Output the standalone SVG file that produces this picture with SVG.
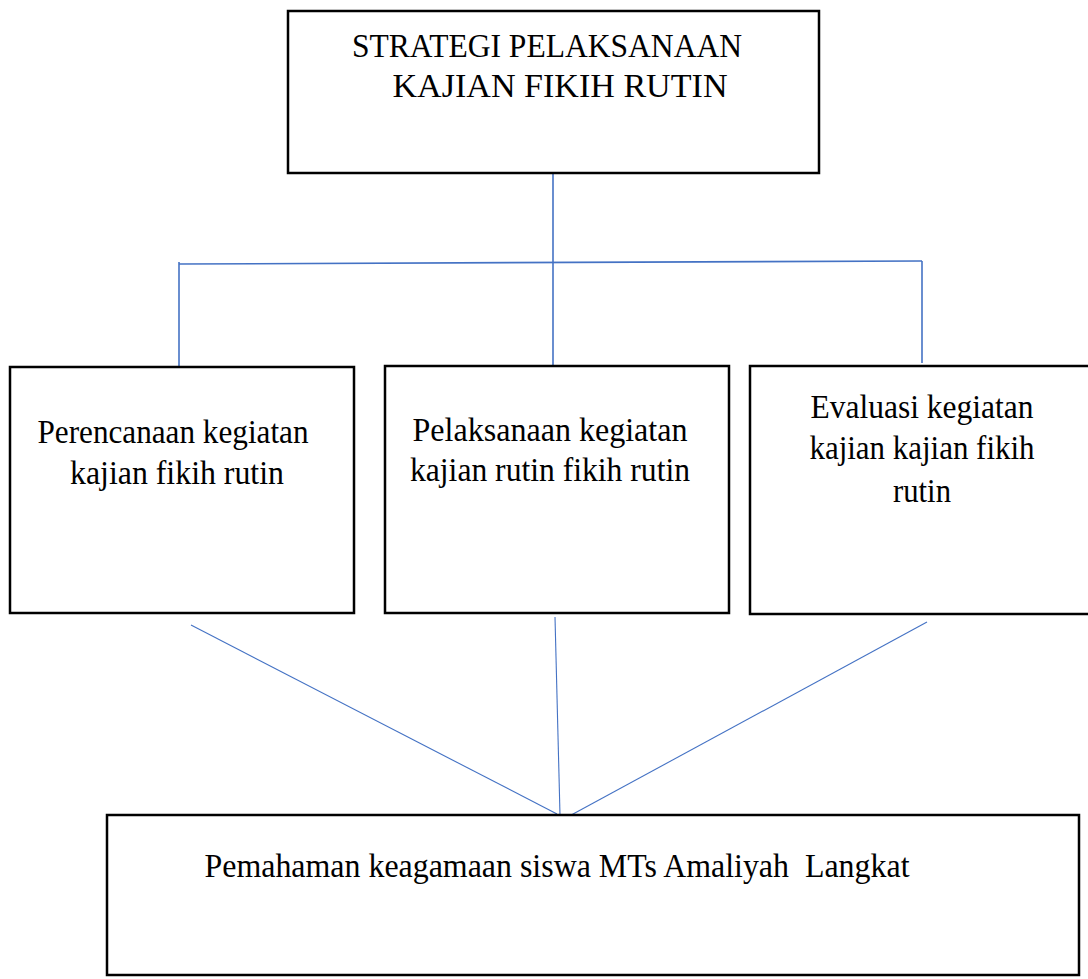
<svg xmlns="http://www.w3.org/2000/svg" width="1088" height="979" viewBox="0 0 1088 979">
<style>
.box{fill:#fff;stroke:#000;stroke-width:2.5}
.t{font-family:"Liberation Serif","Times New Roman",serif;font-size:33px;fill:#000;text-anchor:middle}
.c{stroke:#4472C4;stroke-width:1.6;fill:none}
.d{stroke:#4472C4;stroke-width:1.1;fill:none}
</style>
<rect width="1088" height="979" fill="#fff"/>
<g id="connectors">
<line class="c" x1="553" y1="174" x2="553" y2="366"/>
<polyline class="c" points="179,262 179,368"/>
<line class="c" x1="179" y1="264" x2="922" y2="261"/>
<line class="c" x1="922" y1="261" x2="922" y2="363"/>
<line class="d" x1="191" y1="625" x2="557" y2="814"/>
<line class="d" x1="555" y1="617" x2="560" y2="815"/>
<line class="d" x1="927" y1="622" x2="562" y2="820"/>
</g>
<g id="top">
<rect class="box" x="288" y="11" width="531" height="162"/>
<text class="t" x="547" y="57" textLength="390" lengthAdjust="spacingAndGlyphs">STRATEGI PELAKSANAAN</text>
<text class="t" x="560" y="97" textLength="335" lengthAdjust="spacingAndGlyphs">KAJIAN FIKIH RUTIN</text>
</g>
<g id="perencanaan">
<rect class="box" x="10" y="367" width="344" height="246"/>
<text class="t" x="173" y="443" textLength="271" lengthAdjust="spacingAndGlyphs">Perencanaan kegiatan</text>
<text class="t" x="177" y="484" textLength="214" lengthAdjust="spacingAndGlyphs">kajian fikih rutin</text>
</g>
<g id="pelaksanaan">
<rect class="box" x="385" y="366" width="344" height="247"/>
<text class="t" x="550" y="441" textLength="275" lengthAdjust="spacingAndGlyphs">Pelaksanaan kegiatan</text>
<text class="t" x="550" y="481" textLength="280" lengthAdjust="spacingAndGlyphs">kajian rutin fikih rutin</text>
</g>
<g id="evaluasi">
<rect class="box" x="750" y="366" width="340" height="248"/>
<text class="t" x="922" y="418" textLength="223" lengthAdjust="spacingAndGlyphs">Evaluasi kegiatan</text>
<text class="t" x="922" y="459" textLength="225" lengthAdjust="spacingAndGlyphs">kajian kajian fikih</text>
<text class="t" x="922" y="502" textLength="58" lengthAdjust="spacingAndGlyphs">rutin</text>
</g>
<g id="pemahaman">
<rect class="box" x="107" y="815" width="972" height="160"/>
<text class="t" x="557" y="877" textLength="705" lengthAdjust="spacingAndGlyphs" xml:space="preserve">Pemahaman keagamaan siswa MTs Amaliyah  Langkat</text>
</g>
</svg>
